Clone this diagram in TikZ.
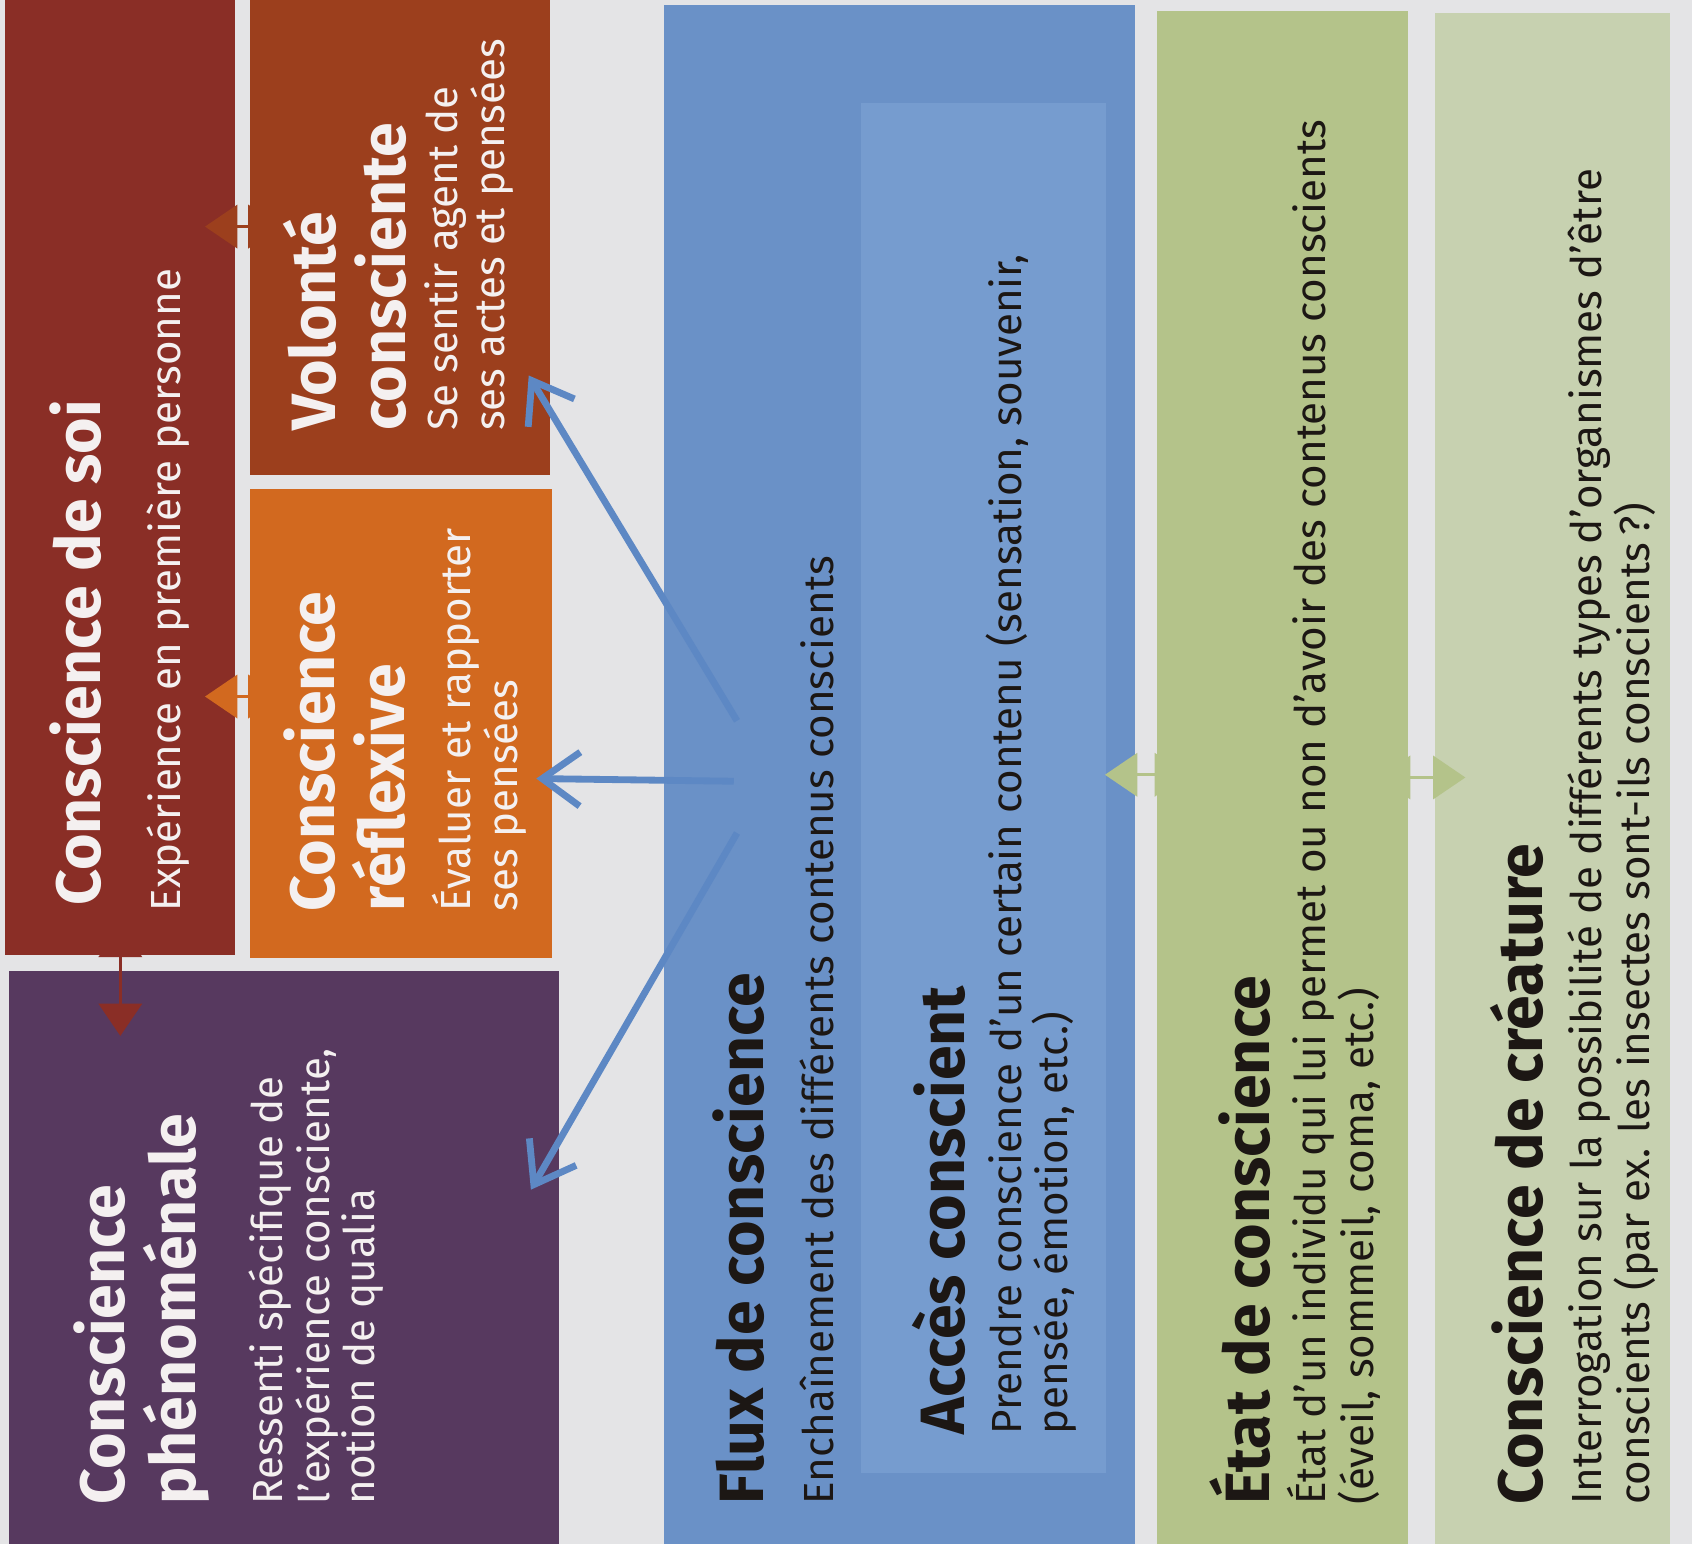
\documentclass[tikz,border=0pt]{standalone}
\usepackage{fontspec}
\setmainfont{Fira Sans}
\usetikzlibrary{arrows.meta,fit}

\definecolor{papier}{HTML}{E4E4E6}
\definecolor{soi}{HTML}{8A2E26}
\definecolor{volonte}{HTML}{9C3F1D}
\definecolor{reflexive}{HTML}{D2691F}
\definecolor{pheno}{HTML}{57395F}
\definecolor{flux}{HTML}{6A91C7}
\definecolor{acces}{HTML}{769CCF}
\definecolor{etat}{HTML}{B4C38A}
\definecolor{creature}{HTML}{C7D1B0}
\definecolor{fleche}{HTML}{5D88C4}
\definecolor{blanc}{HTML}{F4F0F0}
\definecolor{encre}{HTML}{1C1714}

\tikzset{
  boite/.style={inner sep=0pt, outer sep=0pt},
  titre/.style={rotate=90, anchor=north west, inner sep=0pt, align=left,
    font=\bfseries\fontsize{16.5}{18.5}\selectfont},
  texte/.style={rotate=90, anchor=north west, inner sep=0pt, align=left,
    font=\fontsize{11.1}{10.6}\selectfont},
  lien/.style={line width=0.9pt,
    {Triangle[length=3mm,width=4mm]}-{Triangle[length=3mm,width=4mm]},
    shorten <=-2.8mm, shorten >=-2.8mm},
  flot/.style={fleche, line width=1.8pt, -{Straight Barb[length=3.5mm,width=5mm]}}
}

\begin{document}
\begin{tikzpicture}[x=0.01cm, y=-0.01cm]
    \useasboundingbox (0,0) rectangle (1568,1431);
    \fill[papier] (0,0) rectangle (1568,1431);

    % Boites
    \node[boite, fill=soi, fit={(5,0) (218,885)}] (soi) {};
    \node[boite, fill=volonte, fit={(232,0) (510,440)}] (volonte) {};
    \node[boite, fill=reflexive, fit={(232,453) (512,888)}] (reflexive) {};
    \node[boite, fill=pheno, fit={(8,900) (518,1431)}] (pheno) {};
    \node[boite, fill=flux, fit={(615,5) (1052,1431)}] (flux) {};
    \node[boite, fill=acces, fit={(798,95) (1025,1365)}] (acces) {};
    \node[boite, fill=etat, fit={(1072,10) (1305,1431)}] (etat) {};
    \node[boite, fill=creature, fit={(1330,12) (1548,1431)}] (creature) {};

    % Textes
    \node[titre, text=blanc] (tsoi) at (45,840) {Conscience de soi};
    \node[texte, text=blanc] (xsoi) at (135,845) {Expérience en première personne};

    \node[titre, text=blanc] (tvolonte) at (262,400) {Volonté\\consciente};
    \node[texte, text=blanc] (xvolonte) at (393,400) {Se sentir agent de\\ses actes et pensées};

    \node[titre, text=blanc] (treflexive) at (262,845) {Conscience\\réflexive};
    \node[texte, text=blanc] (xreflexive) at (400,845) {Évaluer et rapporter\\ses pensées};

    \node[titre, text=blanc] (tpheno) at (68,1395) {Conscience\\phénoménale};
    \node[texte, text=blanc] (xpheno) at (230,1395) {Ressenti spécifique de\\l’expérience consciente,\\notion de qualia};

    \node[titre, text=encre] (tflux) at (660,1395) {Flux de conscience};
    \node[texte, text=encre] (xflux) at (740,1395) {Enchaînement des différents contenus conscients};

    \node[titre, text=encre] (tacces) at (845,1330) {Accès conscient};
    \node[texte, text=encre] (xacces) at (913,1330) {Prendre conscience d’un certain contenu (sensation, souvenir,\\pensée, émotion, etc.)};

    \node[titre, text=encre] (tetat) at (1120,1395) {État de conscience};
    \node[texte, text=encre] (xetat) at (1192,1395) {État d’un individu qui lui permet ou non d’avoir des contenus conscients\\(éveil, sommeil, coma, etc.)};

    \node[titre, text=encre] (tcreature) at (1380,1395) {Conscience de créature};
    \node[texte, text=encre] (xcreature) at (1452,1395) {Interrogation sur la possibilité de différents types d’organismes d’être\\conscients (par ex. les insectes sont-ils conscients\,?)};

    % Liens entre boites
    \draw[lien, volonte] ([yshift=0.1cm]soi.east |- volonte.west) -- ([yshift=0.1cm]volonte.west);
    \draw[lien, reflexive] ([yshift=0.25cm]soi.east |- reflexive.west) -- ([yshift=0.25cm]reflexive.west);
    \draw[lien, soi, shorten >=-6mm] (soi.south) -- (soi.south |- pheno.north);
    \draw[lien, etat] (flux.east) -- (flux.east -| etat.west);
    \draw[lien, etat] (etat.east) -- (etat.east -| creature.west);

    % Fleches du flux
    \coordinate (depart haut) at (683,668);
    \coordinate (depart milieu) at (680,724);
    \coordinate (depart bas) at (683,772);
    \draw[flot] (depart haut) -- ([shift={(-20,-92)}]volonte.south east);
    \draw[flot] (depart milieu) -- ([shift={(-15,51)}]reflexive.east);
    \draw[flot] (depart bas) -- ([shift={(-26,-63)}]pheno.east);

\end{tikzpicture}
\end{document}
